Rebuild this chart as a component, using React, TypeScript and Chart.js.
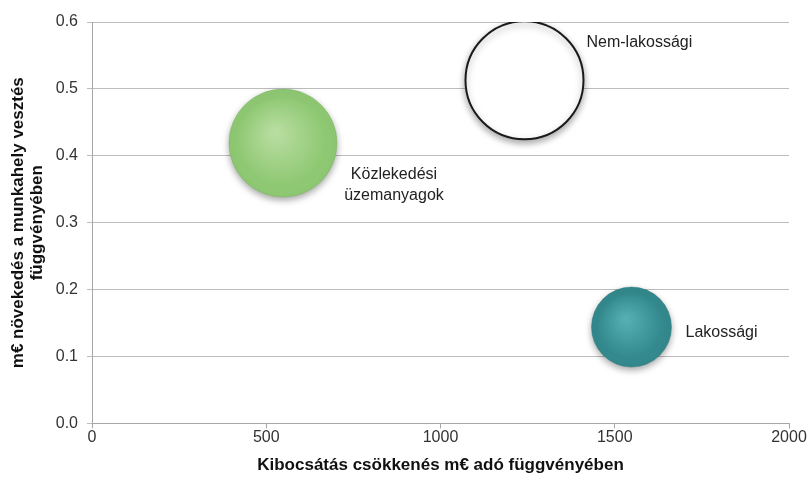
import React, { useEffect, useRef } from "react";
import { Chart, registerables } from "chart.js";

Chart.register(...registerables);

const seriesNames = ["Közlekedési üzemanyagok", "Nem-lakossági", "Lakossági"];
const labelLines = [["Közlekedési", "üzemanyagok"], ["Nem-lakossági"], ["Lakossági"]];
const xValues = [548, 1241, 1548];
const yValues = [0.419, 0.513, 0.144];
const sizes = [54, 59, 40];
const xTitle = "Kibocsátás csökkenés m€ adó függvényében";
const yTitle = ["m€ növekedés a munkahely vesztés", "függvényében"];

const palette = [
  { inner: "#b8dda0", outer: "#8fc873", border: "rgba(120,180,95,0.9)", borderWidth: 0.5 },
  { inner: "#ffffff", outer: "#ffffff", border: "#1a1a1a", borderWidth: 2 },
  { inner: "#55afb2", outer: "#33898d", border: "rgba(40,120,125,0.9)", borderWidth: 0.5 },
];

const FONT = "'Liberation Sans', Arial, Helvetica, sans-serif";

const shadowPlugin = {
  id: "bubbleShadow",
  beforeDatasetDraw(chart: any) {
    const ctx = chart.ctx;
    ctx.save();
    ctx.shadowColor = "rgba(0,0,0,0.35)";
    ctx.shadowBlur = 7;
    ctx.shadowOffsetX = 0;
    ctx.shadowOffsetY = 3;
  },
  afterDatasetDraw(chart: any) {
    chart.ctx.restore();
  },
};

const labelPlugin = {
  id: "bubbleLabels",
  afterDatasetsDraw(chart: any) {
    const ctx = chart.ctx;
    const xs = chart.scales.x;
    const ys = chart.scales.y;
    ctx.save();
    ctx.font = `16px ${FONT}`;
    ctx.fillStyle = "#222";
    ctx.textBaseline = "middle";
    const offs = [
      { dx: 111, dy: 32, align: "center" },
      { dx: 62, dy: -38, align: "left" },
      { dx: 54, dy: 6, align: "left" },
    ];
    labelLines.forEach((lines, i) => {
      const cx = xs.getPixelForValue(xValues[i]);
      const cy = ys.getPixelForValue(yValues[i]);
      const o = offs[i];
      ctx.textAlign = o.align;
      lines.forEach((ln, j) => {
        ctx.fillText(ln, cx + o.dx, cy + o.dy + j * 21);
      });
    });
    ctx.restore();
  },
};

function bg(ctx: any) {
  const i = ctx.datasetIndex;
  const p = palette[i];
  const chart = ctx.chart;
  const xs = chart.scales?.x;
  const ys = chart.scales?.y;
  const raw = ctx.raw;
  if (!xs || !ys || !raw) return p.outer;
  const cx = xs.getPixelForValue(raw.x);
  const cy = ys.getPixelForValue(raw.y);
  const r = raw.r;
  if (!isFinite(cx) || !isFinite(cy) || !isFinite(r) || xs.width <= 0) return p.outer;
  const g = chart.ctx.createRadialGradient(cx - r * 0.15, cy - r * 0.2, r * 0.05, cx, cy, r);
  g.addColorStop(0, p.inner);
  g.addColorStop(0.8, p.outer);
  g.addColorStop(1, p.outer);
  return g;
}

export default function App() {
  const ref = useRef<HTMLCanvasElement | null>(null);
  useEffect(() => {
    document.body.style.margin = "0";
    const canvas = ref.current!;
    const chart = new Chart(canvas, {
      type: "bubble",
      data: {
        datasets: seriesNames.map((name, i) => ({
          label: name,
          data: [{ x: xValues[i], y: yValues[i], r: sizes[i] }],
          backgroundColor: bg,
          borderColor: palette[i].border,
          borderWidth: palette[i].borderWidth,
          hoverRadius: 0,
        })),
      },
      options: {
        responsive: false,
        animation: false,
        events: [],
        layout: { autoPadding: false, padding: { top: 22, right: 22, left: 0, bottom: 0 } },
        plugins: {
          legend: { display: false },
          tooltip: { enabled: false },
        },
        scales: {
          x: {
            type: "linear",
            min: 0,
            max: 2000,
            border: { color: "#a6a6a6", width: 1 },
            grid: { display: true, drawOnChartArea: false, drawTicks: true, tickLength: 5, color: "#a6a6a6" },
            ticks: {
              stepSize: 500,
              font: { family: FONT, size: 16 },
              color: "#333",
              padding: 0,
              maxRotation: 0,
              callback: (v: any) => String(v),
            },
            title: {
              display: true,
              text: xTitle,
              font: { family: FONT, size: 17, weight: "bold" },
              color: "#111",
              padding: { top: 8, bottom: 3 },
            },
          },
          y: {
            type: "linear",
            min: 0,
            max: 0.6,
            border: { color: "#a6a6a6", width: 1 },
            grid: { color: "#bdbdbd", lineWidth: 1, tickLength: 5 },
            ticks: {
              stepSize: 0.1,
              font: { family: FONT, size: 16 },
              color: "#333",
              padding: 9,
              callback: (v: any) => Number(v).toFixed(1),
            },
            title: {
              display: true,
              text: yTitle,
              font: { family: FONT, size: 17, weight: "bold", lineHeight: 1.1 },
              color: "#111",
              padding: { top: 9, bottom: 4 },
            },
            afterFit: (s: any) => {
              s.width = 92;
            },
          },
        },
      },
      plugins: [shadowPlugin, labelPlugin],
    });
    return () => chart.destroy();
  }, []);
  return (
    <div style={{ width: 811, height: 479, background: "#fff" }}>
      <canvas ref={ref} width={811} height={479} />
    </div>
  );
}
